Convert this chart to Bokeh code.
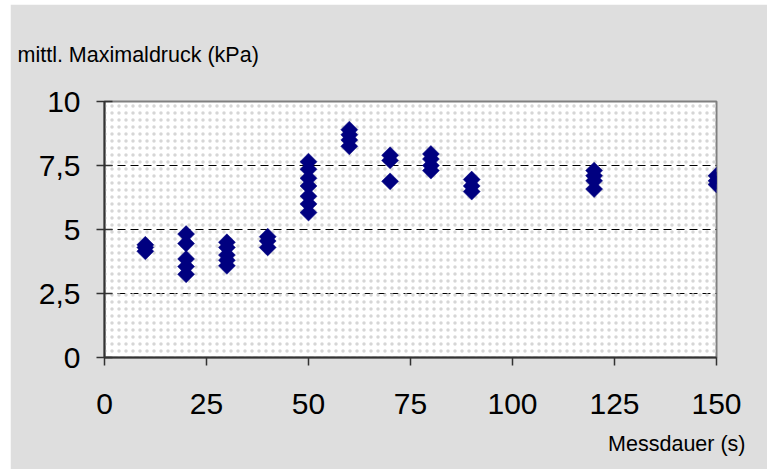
import math
from bokeh.plotting import figure
from bokeh.models import FixedTicker, Title, BoxAnnotation, ColumnDataSource, Range1d
from bokeh.embed import file_html
from bokeh.resources import INLINE

# ---- data ----
dauer_10 = [4.4, 4.3, 4.15]
dauer_20 = [4.82, 4.45, 3.85, 3.55, 3.25]
dauer_30 = [4.5, 4.3, 4.0, 3.8, 3.58]
dauer_40 = [4.72, 4.55, 4.3]
dauer_50 = [7.65, 7.35, 7.0, 6.7, 6.3, 6.0, 5.66]
dauer_60 = [8.9, 8.7, 8.5, 8.25]
dauer_70 = [7.9, 7.7, 6.88]
dauer_80 = [7.95, 7.75, 7.5, 7.3]
dauer_90 = [6.95, 6.7, 6.48]
dauer_120 = [7.3, 7.1, 6.9, 6.58]
dauer_150 = [7.1, 6.9, 6.76]

messdauer = [10, 20, 30, 40, 50, 60, 70, 80, 90, 120, 150]
druck_reihen = [dauer_10, dauer_20, dauer_30, dauer_40, dauer_50, dauer_60,
                dauer_70, dauer_80, dauer_90, dauer_120, dauer_150]

x_ticks = [0, 25, 50, 75, 100, 125, 150]
x_tick_labels = ["0", "25", "50", "75", "100", "125", "150"]
y_ticks = [0, 2.5, 5, 7.5, 10]
y_tick_labels = ["0", "2,5", "5", "7,5", "10"]
grid_values = [2.5, 5, 7.5]

x_title = "Messdauer (s)"
y_title = "mittl. Maximaldruck (kPa)"

xs, ys = [], []
for d, reihe in zip(messdauer, druck_reihen):
    for v in reihe:
        xs.append(d)
        ys.append(v)
src = ColumnDataSource(data=dict(x=xs, y=ys))

FONT = "Liberation Sans"

p = figure(frame_width=612, frame_height=256,
           min_border_left=94, min_border_top=97,
           min_border_right=51, min_border_bottom=108,
           x_range=Range1d(0, 150), y_range=Range1d(0, 10),
           output_backend="svg", toolbar_location=None)
p.margin = (4, 0, 0, 10)

p.background_fill_color = "white"
p.border_fill_color = "#dedede"
p.outline_line_color = "#808080"
p.outline_line_width = 2

# dotted pattern on plot area
p.add_layout(BoxAnnotation(left=0, right=150, bottom=0, top=10,
                           fill_alpha=0, line_alpha=0,
                           hatch_pattern=".", hatch_color="#d6d6d6",
                           hatch_scale=7, hatch_weight=1, level="underlay"))

# grid
p.xgrid.visible = False
p.ygrid.ticker = FixedTicker(ticks=grid_values)
p.ygrid.grid_line_color = "black"
p.ygrid.grid_line_dash = "8 5"
p.ygrid.grid_line_width = 1

# axes
p.xaxis.ticker = FixedTicker(ticks=x_ticks)
p.xaxis.major_label_overrides = {t: l for t, l in zip(x_ticks, x_tick_labels)}
p.yaxis.ticker = FixedTicker(ticks=y_ticks)
p.yaxis.major_label_overrides = {t: l for t, l in zip(y_ticks, y_tick_labels)}

for ax in (p.xaxis[0], p.yaxis[0]):
    ax.axis_line_color = "#333333"
    ax.axis_line_width = 2
    ax.major_tick_line_color = "#333333"
    ax.major_tick_line_width = 1.5
    ax.minor_tick_line_color = None
    ax.major_label_text_font = FONT
    ax.major_label_text_font_size = "30px"
    ax.major_label_text_color = "black"

p.xaxis.major_tick_out = 8
p.xaxis.major_tick_in = 0
p.xaxis.major_label_standoff = 28
p.yaxis.major_tick_out = 8
p.yaxis.major_tick_in = 8
p.yaxis.major_label_standoff = 16

# points
p.scatter("x", "y", source=src, marker="square", size=12, angle=math.pi / 4,
          fill_color="#000080", line_color="#000080", line_width=0.5)

# titles
p.add_layout(Title(text=y_title, align="left", offset=-87, standoff=70,
                   text_font=FONT, text_font_size="21.5px", text_font_style="normal",
                   text_color="black"), "above")
p.add_layout(Title(text=x_title, align="right", offset=-29, standoff=27,
                   text_font=FONT, text_font_size="21.5px", text_font_style="normal",
                   text_color="black"), "below")

open("out.html", "w").write(file_html(p, INLINE))
